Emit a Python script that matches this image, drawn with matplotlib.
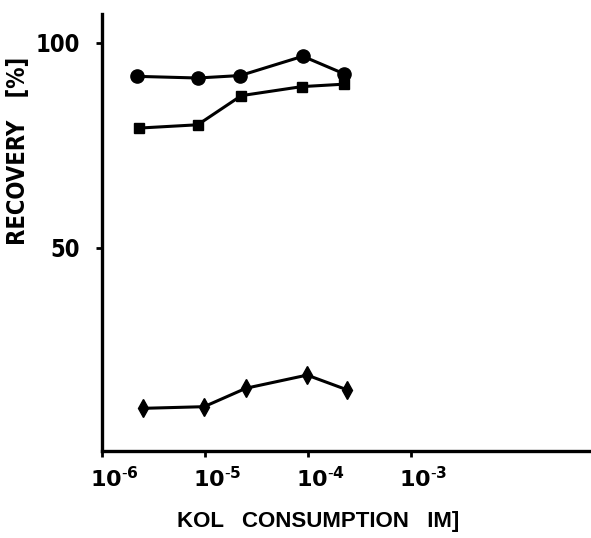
import numpy as np
import matplotlib.pyplot as plt
import matplotlib.transforms as mtransforms

# KOL concentration [M] and recovery [%]
x_circle = [2.2e-6, 8.5e-6, 2.2e-5, 8.9e-5, 2.25e-4]
y_circle = [91.8, 91.4, 92.0, 96.7, 92.4]

x_square = [2.3e-6, 8.5e-6, 2.25e-5, 8.7e-5, 2.25e-4]
y_square = [79.2, 80.0, 87.1, 89.3, 89.9]

x_diamond = [2.5e-6, 9.8e-6, 2.5e-5, 9.8e-5, 2.4e-4]
y_diamond = [10.9, 11.3, 15.8, 19.0, 15.4]

xticks = [1e-6, 1e-5, 1e-4, 1e-3]
xtick_labels = [r'$\mathbf{10^{\text{-}6}}$', r'$\mathbf{10^{\text{-}5}}$',
                r'$\mathbf{10^{\text{-}4}}$', r'$\mathbf{10^{\text{-}3}}$']
yticks = [50, 100]

fig = plt.figure(figsize=(5.91, 5.38), dpi=100)
ax = fig.add_axes([0.1726, 0.1617, 0.8274, 0.8123])

ax.plot(x_circle, y_circle, 'k-', lw=2.2, marker='o', ms=9.5)
ax.plot(x_square, y_square, 'k-', lw=2.2, marker='s', ms=7)
ax.plot(x_diamond, y_diamond, 'k-', lw=2.2, marker='d', ms=9)

ax.set_xscale('log')
ax.set_xlim(1e-6, 10**-1.253)
ax.set_ylim(0.5, 107)
ax.spines[['top', 'right']].set_visible(False)
ax.spines[['left', 'bottom']].set_linewidth(2.4)

ax.set_xticks(xticks)
ax.set_xticklabels(xtick_labels, fontsize=16)
ax.xaxis.set_minor_locator(plt.NullLocator())
ax.tick_params(axis='x', length=4, width=2, pad=7)
shift = mtransforms.ScaledTranslation(0.12, 0, fig.dpi_scale_trans)
for lbl in ax.get_xticklabels():
    lbl.set_transform(lbl.get_transform() + shift)

ax.set_yticks(yticks)
ax.set_yticklabels([str(v) for v in yticks], fontsize=17, fontweight='bold', fontstretch='condensed')
ax.tick_params(axis='y', length=4, width=2, pad=12)

fig.text(0.03, 1 - 151 / 538, 'RECOVERY   [%]', rotation=90, ha='center', va='center',
         fontsize=17, fontweight='bold', fontstretch='condensed')
fig.text(318 / 591, 1 - 522 / 538, 'KOL   CONSUMPTION   IM]', ha='center', va='center',
         fontsize=16, fontweight='bold', family='Liberation Sans')

fig.savefig('out.png', dpi=100)
